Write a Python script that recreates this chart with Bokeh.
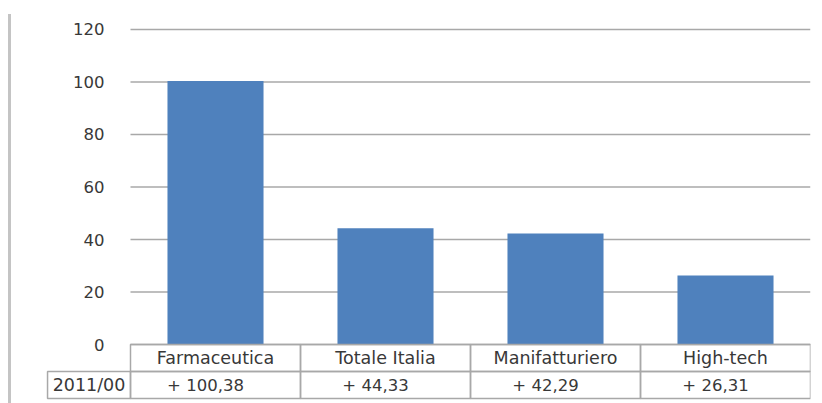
from bokeh.plotting import figure
from bokeh.models import Range1d, FixedTicker, ColumnDataSource
from bokeh.core.properties import value
from bokeh.embed import file_html
from bokeh.resources import INLINE

categories = ["Farmaceutica", "Totale Italia", "Manifatturiero", "High-tech"]
values = [100.38, 44.33, 42.29, 26.31]
value_labels = ["+ 100,38", "+ 44,33", "+ 42,29", "+ 26,31"]
row_label = "2011/00"
y_ticks = [0, 20, 40, 60, 80, 100, 120]

FONT = "DejaVu Sans"
TXT = "#383838"
GRID = "#a8a8a8"
BAR = "#4f81bd"

n = len(categories)
xs = [i + 0.5 for i in range(n)]
row_h = 10.29        # table row height in y units
label_col = -0.488   # left edge of the row-label cell

p = figure(frame_width=765, frame_height=386,
           x_range=Range1d(-0.5, n), y_range=Range1d(-21.33, 125.71),
           output_backend="svg", toolbar_location=None,
           min_border_left=45, min_border_right=6, min_border_top=14, min_border_bottom=3)
p.outline_line_color = None
p.border_fill_color = None
p.xaxis.visible = False
p.xgrid.visible = False
p.ygrid.visible = False

ya = p.yaxis[0]
ya.fixed_location = 0
ya.ticker = FixedTicker(ticks=y_ticks)
ya.axis_line_color = None
ya.major_tick_line_color = None
ya.minor_tick_line_color = None
ya.major_label_standoff = 20
ya.major_label_text_font = FONT
ya.major_label_text_font_size = "16.5px"
ya.major_label_text_color = TXT

# gridlines
p.segment(x0=[0] * len(y_ticks), x1=[n] * len(y_ticks), y0=y_ticks, y1=y_ticks,
          line_color=GRID, line_width=1.5)

# bars
src = ColumnDataSource(dict(x=xs, top=values, cat=categories, lab=value_labels))
p.vbar(x="x", top="top", width=0.565, bottom=0, source=src,
       fill_color=BAR, line_color=None)

# data table below
p.quad(left=list(range(n)), right=[i + 1 for i in range(n)],
       top=[0] * n, bottom=[-row_h] * n,
       fill_color=None, line_color=GRID, line_width=1.5)
p.quad(left=[label_col] + list(range(n)), right=[0] + [i + 1 for i in range(n)],
       top=[-row_h] * (n + 1), bottom=[-2 * row_h] * (n + 1),
       fill_color=None, line_color=GRID, line_width=1.5)

p.text(x="x", y=-row_h / 2, text="cat", source=src, text_font=value(FONT),
       text_font_size="17.5px", text_color=TXT, text_align="center", text_baseline="middle")
p.text(x="x", y=-1.5 * row_h, text="lab", source=src, text_font=value(FONT),
       text_font_size="16.5px", text_color=TXT, text_align="center", text_baseline="middle",
       x_offset=-10)
p.text(x=[label_col / 2], y=[-1.5 * row_h], text=[row_label], text_font=value(FONT),
       text_font_size="17.5px", text_color=TXT, text_align="center", text_baseline="middle")

p.styles = {
    "background-image": "linear-gradient(#c4c4c4, #c4c4c4)",
    "background-size": "3px calc(100% - 14px)",
    "background-position": "8px 14px",
    "background-repeat": "no-repeat",
}

open("out.html", "w").write(file_html(p, INLINE))
